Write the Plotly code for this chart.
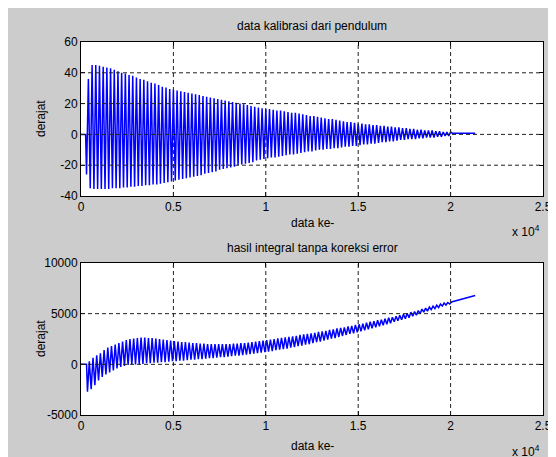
import plotly.graph_objects as go

# ---------------- data ----------------
x_tickvals = [0, 5000, 10000, 15000, 20000, 25000]
x_ticktext = ["0", "0.5", "1", "1.5", "2", "2.5"]
top_yticks = [-40, -20, 0, 20, 40, 60]
top_yticktext = ["-40", "-20", "0", "20", "40", "60"]
bot_yticks = [-5000, 0, 5000, 10000]
bot_yticktext = ["-5000", "0", "5000", "10000"]

# sample index grid of the oscillation (one swing every 200 samples)
sample_step = 200
top_first_trough = 300
bot_first_trough = 350

# top: pendulum angle, trough / peak of every swing
top_trough = [
    -26, -35, -35.5, -35.5, -35.5,
    -35.5, -35.5, -35, -35, -35,
    -34.5, -34.5, -34, -34, -33.5,
    -33.5, -33, -33, -32.5, -32.5,
    -32, -31.5, -31, -30.5, -30,
    -29.5, -29, -28.5, -28, -27.5,
    -27, -26.5, -25.5, -25, -24.5,
    -24, -23, -22.5, -22, -21.5,
    -21, -20, -19.5, -19, -18.5,
    -18, -17, -16.5, -16, -15.5,
    -15, -15, -14.5, -14, -13.5,
    -13, -13, -12.5, -12, -11.5,
    -11, -11, -10.5, -10, -10,
    -9.5, -9.5, -9, -9, -8.5,
    -8, -8, -7.5, -7.5, -7,
    -6.5, -6.5, -6, -6, -5.5,
    -5, -5, -4.5, -4.5, -4,
    -3.5, -3.5, -3, -3, -3,
    -2.5, -2.5, -2, -2, -2,
    -1.5, -1.5, -1, -1,
]
top_peak = [
    36, 45, 45, 44.5, 44,
    43.5, 43, 42, 41, 40,
    39.5, 38.5, 38, 37, 36,
    35.5, 34.5, 33.5, 33, 32,
    31, 30.5, 29.5, 29, 28.5,
    28, 27.5, 27, 26.5, 26,
    25.5, 25, 24.5, 24, 23.5,
    23, 22.5, 22, 21.5, 21,
    20.5, 20, 19.5, 19, 18.5,
    18, 17.5, 17, 16.5, 16.5,
    16, 15.5, 15.5, 15, 14.5,
    14, 14, 13.5, 13, 12.5,
    12, 12, 11.5, 11, 10.5,
    10, 10, 9.5, 9, 8.5,
    8, 8, 7.5, 7, 7,
    6.5, 6.5, 6, 6, 5.5,
    5.5, 5, 5, 4.5, 4.5,
    4, 4, 3.5, 3.5, 3,
    3, 2.5, 2.5, 2.5, 2,
    2, 1.5, 1.5, 1.5,
]
top_head_x = [0, 250]
top_head_y = [0, 0]
top_tail_x = [20100, 21330]
top_tail_y = [0.8, 0.8]

# bottom: integral without error correction, trough / peak of every swing
bot_trough = [
    -2700, -2450, -2050, -1600, -1250,
    -1000, -800, -600, -400, -250,
    -150, -50, 0, 0, 50,
    50, 100, 100, 150, 150,
    200, 200, 250, 300, 300,
    350, 350, 400, 450, 450,
    500, 500, 550, 600, 600,
    650, 700, 700, 750, 800,
    850, 850, 900, 950, 1000,
    1050, 1100, 1150, 1200, 1250,
    1300, 1400, 1450, 1500, 1550,
    1650, 1700, 1800, 1850, 1950,
    2000, 2100, 2200, 2250, 2350,
    2450, 2550, 2600, 2700, 2800,
    2900, 3000, 3050, 3150, 3250,
    3350, 3450, 3550, 3650, 3750,
    3850, 3950, 4050, 4200, 4300,
    4400, 4500, 4600, 4750, 4850,
    5000, 5150, 5250, 5400, 5500,
    5600, 5750, 5850, 5950,
]
bot_peak = [
    300, 650, 900, 1100, 1400,
    1650, 1800, 1950, 2100, 2250,
    2400, 2500, 2550, 2600, 2650,
    2650, 2600, 2600, 2550, 2500,
    2450, 2400, 2350, 2300, 2250,
    2200, 2200, 2150, 2100, 2100,
    2050, 2050, 2000, 2000, 2000,
    2000, 2000, 2000, 2000, 2050,
    2050, 2100, 2100, 2150, 2200,
    2250, 2300, 2350, 2400, 2450,
    2500, 2550, 2600, 2650, 2700,
    2750, 2800, 2900, 2950, 3000,
    3050, 3100, 3200, 3250, 3300,
    3400, 3450, 3550, 3600, 3650,
    3750, 3800, 3900, 3950, 4000,
    4100, 4200, 4250, 4350, 4400,
    4500, 4600, 4650, 4750, 4850,
    4950, 5050, 5150, 5200, 5300,
    5450, 5550, 5650, 5750, 5850,
    5950, 6050, 6100, 6150,
]
bot_head_x = [0, 300]
bot_head_y = [0, 0]
bot_tail_x = [21330]
bot_tail_y = [6800]


def swing_series(first, troughs, peaks, head_x, head_y, tail_x, tail_y):
    xs, ys = list(head_x), list(head_y)
    for k, (lo, hi) in enumerate(zip(troughs, peaks)):
        xs += [first + k * sample_step, first + k * sample_step + sample_step // 2]
        ys += [lo, hi]
    return xs + list(tail_x), ys + list(tail_y)


tx, ty = swing_series(top_first_trough, top_trough, top_peak,
                      top_head_x, top_head_y, top_tail_x, top_tail_y)
bx, by = swing_series(bot_first_trough, bot_trough, bot_peak,
                      bot_head_x, bot_head_y, bot_tail_x, bot_tail_y)

# ---------------- figure ----------------
# page body has an 8px margin, so the figure itself is 548 x 449
W, H = 548, 449
ML, MR, MT, MB = 73, 13, 34, 42
PW, PH = W - ML - MR, H - MT - MB


def px(xp):
    return (xp - ML) / PW


def py(yp):
    return (H - MB - yp) / PH


FONT = "Liberation Sans, Arial, Helvetica, sans-serif"
GRAY = "#cccccc"
BLUE = "#0000ff"

fig = go.Figure()
fig.add_trace(go.Scatter(x=tx, y=ty, mode="lines", xaxis="x", yaxis="y",
                         line=dict(color=BLUE, width=1.5), showlegend=False))
fig.add_trace(go.Scatter(x=bx, y=by, mode="lines", xaxis="x2", yaxis="y2",
                         line=dict(color=BLUE, width=1.5), showlegend=False))

axis_common = dict(showline=True, linecolor="black", linewidth=1, mirror="ticks",
                   ticks="inside", ticklen=4, tickcolor="black",
                   showgrid=False, zeroline=False, automargin=False,
                   tickfont=dict(family=FONT, size=12, color="black"))

top_dom = [py(188), 1.0]
bot_dom = [0.0, py(255)]

fig.update_layout(
    width=W, height=H,
    margin=dict(l=ML, r=MR, t=MT, b=MB),
    paper_bgcolor=GRAY, plot_bgcolor="white",
    xaxis=dict(domain=[0, 1], anchor="y", range=[0, 25000],
               tickvals=x_tickvals, ticktext=x_ticktext, **axis_common),
    yaxis=dict(domain=top_dom, anchor="x", range=[-40, 60],
               tickvals=top_yticks, ticktext=top_yticktext, **axis_common),
    xaxis2=dict(domain=[0, 1], anchor="y2", range=[0, 25000],
                tickvals=x_tickvals, ticktext=x_ticktext, **axis_common),
    yaxis2=dict(domain=bot_dom, anchor="x2", range=[-5000, 10000],
                tickvals=bot_yticks, ticktext=bot_yticktext, **axis_common),
)

shapes = []
grid_line = dict(color="#222222", width=1, dash="4px,3px")
for xr, yr, yt in (("x", "y", top_yticks), ("x2", "y2", bot_yticks)):
    for v in x_tickvals[1:-1]:
        shapes.append(dict(type="line", xref=xr, yref=yr + " domain", x0=v, x1=v,
                           y0=0, y1=1, line=grid_line, layer="above"))
    for v in yt[1:-1]:
        shapes.append(dict(type="line", xref=xr + " domain", yref=yr, x0=0, x1=1,
                           y0=v, y1=v, line=grid_line, layer="above"))
fig.update_layout(shapes=shapes)

tf = dict(family=FONT, size=12, color="black")
ann = [
    dict(text="data kalibrasi dari pendulum", x=0.5, y=py(18)),
    dict(text="hasil integral tanpa koreksi error", x=0.5, y=py(240)),
    dict(text="data ke-", x=0.5, y=py(215)),
    dict(text="data ke-", x=0.5, y=py(438)),
    dict(text="derajat", x=px(33), y=py(111), textangle=-90),
    dict(text="derajat", x=px(33), y=py(331), textangle=-90),
    dict(text="x 10<sup>4</sup>", x=px(502), y=py(223), xanchor="left"),
    dict(text="x 10<sup>4</sup>", x=px(502), y=py(443), xanchor="left"),
]
for a in ann:
    a.setdefault("xanchor", "center")
    fig.add_annotation(xref="paper", yref="paper", yanchor="middle",
                       showarrow=False, font=tf, **a)

fig.write_html("out.html")
